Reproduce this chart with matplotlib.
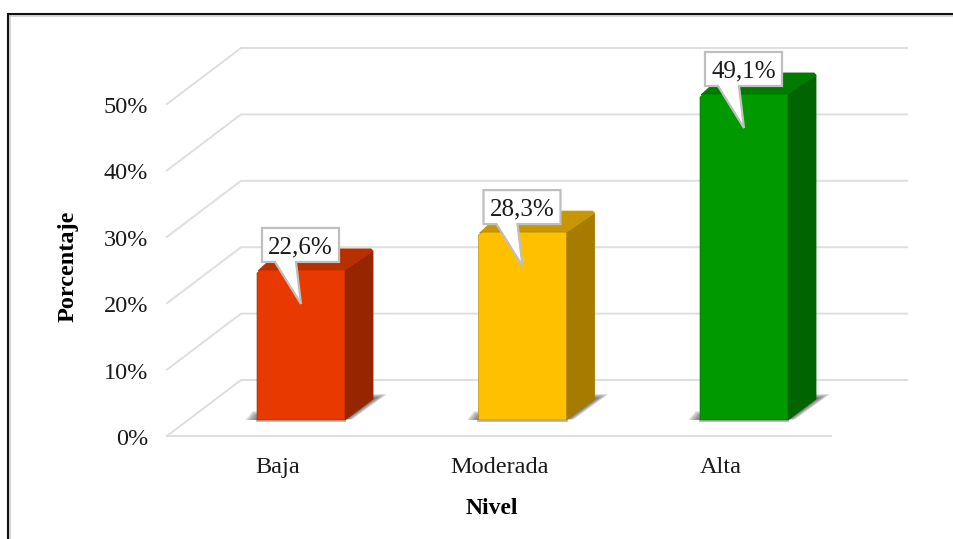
import matplotlib
matplotlib.use("Agg")
import matplotlib.pyplot as plt
from matplotlib.patches import Polygon

plt.rcParams['font.family'] = ['Liberation Serif', 'DejaVu Serif']

# Datos
niveles = ["Baja", "Moderada", "Alta"]
porcentajes = [22.6, 28.3, 49.1]
etiquetas = ["22,6%", "28,3%", "49,1%"]
ticks = [0, 10, 20, 30, 40, 50]
tick_labels = ["0%", "10%", "20%", "30%", "40%", "50%"]
col_frente = ["#E83A00", "#FFC000", "#009900"]
col_lado = ["#962600", "#A67C00", "#006400"]
col_tapa = ["#B93000", "#C79600", "#007B00"]

W, H = 954, 539
X0, PASO = 301, 221.5       # centro de la primera barra y separacion en px
Y0, ESC = 420, 6.64         # base de las barras y px por cada 1 %

fig = plt.figure(figsize=(W / 100, H / 100), dpi=100)
ax = fig.add_axes([0, 0, 1, 1])
ax.set_xlim(-X0 / PASO, (W - X0) / PASO)
ax.set_ylim(-(H - Y0) / ESC, Y0 / ESC)
ax.axis("off")

px = 1 / PASO   # 1 px en unidades de x
py = 1 / ESC    # 1 px en unidades de y
ANCHO = 88 * px
DX, DY = 28 * px, 21 * py   # profundidad de la barra


def P(x, y, dx=0, dy=0):
    # punto desplazado en pixeles respecto a un valor (x, y)
    return (x + dx * px, y + dy * py)


# Paredes y suelo
izq = -X0 / PASO + 167 * px
for t in ticks:
    ax.plot([izq, izq + 74 * px, izq + 740 * px],
            [t - 16 * py, t + 40 * py, t + 40 * py],
            color="#DEDEDE", lw=1.4, zorder=1, solid_joinstyle="miter")
ax.plot([izq, izq + 664 * px], [-16 * py, -16 * py], color="#DEDEDE", lw=1.4, zorder=1)

for i, v in enumerate(porcentajes):
    x1 = i - 44 * px
    x2 = x1 + ANCHO

    # sombra difusa sobre el suelo, capas cada vez mas estrechas
    for w in [14, 12, 10, 8, 6, 4, 2]:
        ax.add_patch(Polygon([P(x2, 0, 0, 1), P(x2, 0, w * 0.5, 0.5), P(x2, 0, 28 + w, 21 + w * 0.35),
                              P(x2, 0, 28, 21 + w * 0.35)],
                             closed=True, fc="#3A3A3A", ec="none", alpha=0.15, zorder=2))
        ax.add_patch(Polygon([P(x1, 0, -w * 0.85, 0.5), P(x1, 0, 4, 0.5), P(x1, 0, 4, 1 + w * 0.6),
                              P(x1, 0, -w * 0.3, 1 + w * 0.6)],
                             closed=True, fc="#3A3A3A", ec="none", alpha=0.13, zorder=2))
    ax.plot([x1, x2], [-0.8 * py, -0.8 * py], color="#8A8A8A", alpha=0.6, lw=1.3, zorder=2)

    # cara lateral
    ax.add_patch(Polygon([(x2, 0), (x2 + DX, DY), (x2 + DX, v + DY - 2 * py), (x2, v)],
                         closed=True, fc=col_lado[i], ec=col_lado[i], lw=0.6, zorder=3))
    # tapa
    ax.add_patch(Polygon([P(x1, v, 1, -1), P(x1 + DX, v + DY, -3, 0), P(x2 + DX, v + DY, -2, 0),
                          P(x2 + DX, v + DY, 0, -2), (x2, v), P(x1, v, 4, 0)],
                         closed=True, fc=col_tapa[i], ec=col_tapa[i], lw=0.6, zorder=3))
    # cara frontal con la esquina achaflanada
    ax.add_patch(Polygon([(x1, 0), (x2, 0), (x2, v), P(x1, v, 4, 0), P(x1, v, 0, -3)],
                         closed=True, fc=col_frente[i], ec=col_lado[i], lw=0.4, zorder=4))

    # etiqueta de valor con forma de globo
    cx = i
    globo = [P(cx, v, -39, 42), P(cx, v, 38, 42), P(cx, v, 38, 8), P(cx, v, -5, 8),
             P(cx, v, 0, -34), P(cx, v, -26, 8), P(cx, v, -39, 8)]
    ax.add_patch(Polygon(globo, closed=True, fc="white", ec="#BFBFBF", lw=1.6,
                         joinstyle="miter", zorder=5))
    xt, yt = P(cx, v, -0.5, 22.5)
    ax.text(xt, yt, etiquetas[i], ha="center", va="center", fontsize=18,
            color="#1A1A1A", zorder=6)

    # categoria
    xc, yc = P(i, 0, -23, -47.5)
    ax.text(xc, yc, niveles[i], ha="center", va="center", fontsize=17.5, color="#1A1A1A")

# Etiquetas del eje de valores
for t, lab in zip(ticks, tick_labels):
    xt, yt = P(-X0 / PASO, t, 148, -19.5)
    ax.text(xt, yt, lab, ha="right", va="center", fontsize=17.5, color="#1A1A1A")

# Titulos de los ejes
ax.text(-X0 / PASO + 68 * px, (Y0 - 266) * py, "Porcentaje", rotation=90, ha="center", va="center",
        fontsize=17.5, fontweight="bold", color="black")
ax.text(-X0 / PASO + 492 * px, (Y0 - 508) * py, "Nivel", ha="center", va="center",
        fontsize=17, fontweight="bold", color="black")

# Marco exterior (solo se ven los lados superior e izquierdo)
xm = -X0 / PASO + 8 * px
ym = (Y0 - 14.5) * py
ax.plot([xm + 2 * px, xm + 2 * px], [ym - 2 * py, ax.get_ylim()[0]], color="#D0D0D0", lw=1.2, zorder=7)
ax.plot([xm + 2 * px, ax.get_xlim()[1]], [ym - 2 * py, ym - 2 * py], color="#D0D0D0", lw=1.2, zorder=7)
ax.plot([xm, xm, ax.get_xlim()[1]], [ax.get_ylim()[0], ym, ym], color="#111111", lw=1.5,
        solid_joinstyle="miter", zorder=8)

plt.savefig("out.png", dpi=100)
